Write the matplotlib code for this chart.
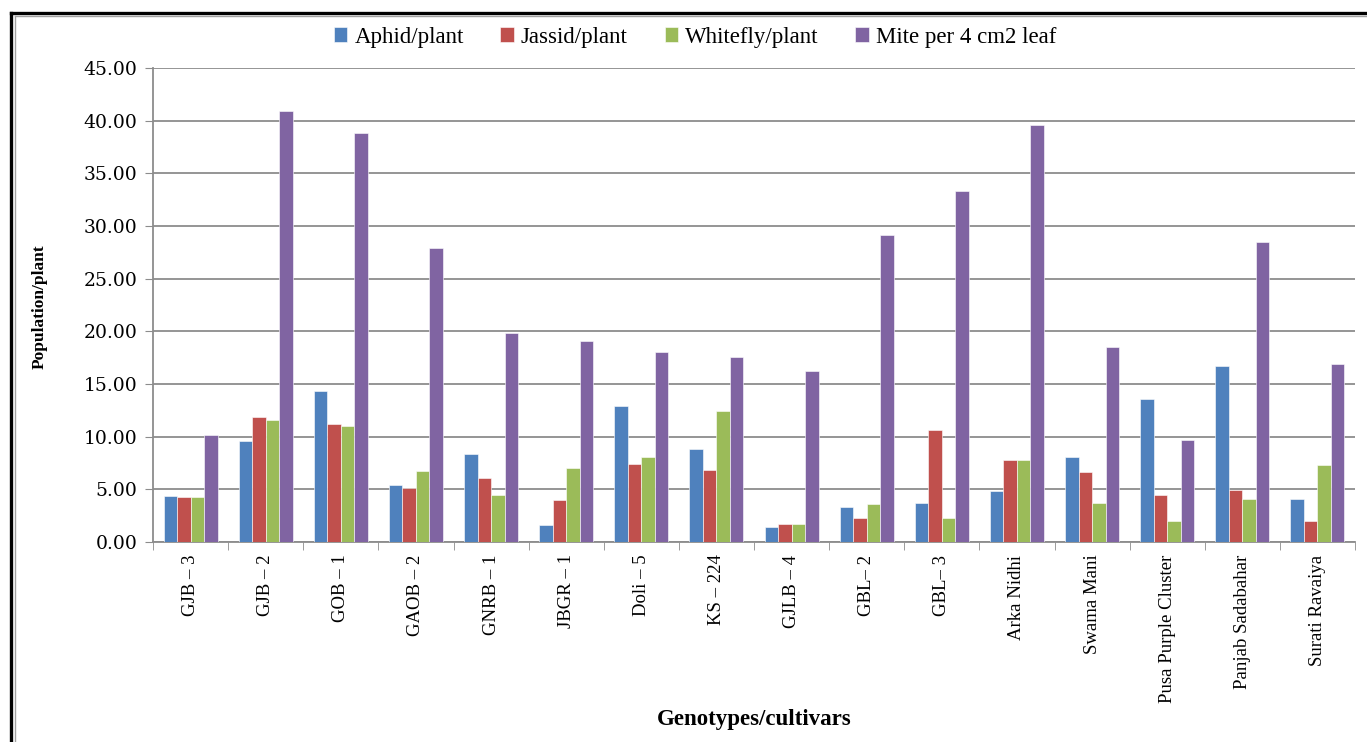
import numpy as np
import matplotlib
matplotlib.use("Agg")
import matplotlib.pyplot as plt
from matplotlib.lines import Line2D

genotypes = ["GJB – 3", "GJB – 2", "GOB – 1", "GAOB – 2", "GNRB – 1", "JBGR – 1",
             "Doli – 5", "KS – 224", "GJLB – 4", "GBL– 2", "GBL– 3", "Arka Nidhi",
             "Swama Mani", "Pusa Purple Cluster", "Panjab Sadabahar", "Surati Ravaiya"]

aphid = [4.35, 9.55, 14.30, 5.43, 8.38, 1.63, 12.93, 8.79, 1.41, 3.34, 3.75, 4.80, 8.09, 13.53, 16.75, 4.07]
jassid = [4.25, 11.85, 11.16, 5.11, 6.06, 3.94, 7.43, 6.79, 1.73, 2.26, 10.59, 7.74, 6.60, 4.48, 4.92, 2.04]
whitefly = [4.25, 11.54, 11.04, 6.70, 4.48, 7.00, 8.05, 12.39, 1.73, 3.63, 2.26, 7.74, 3.75, 1.95, 4.07, 7.33]
mite = [10.18, 40.95, 38.86, 27.87, 19.84, 19.10, 18.06, 17.52, 16.25, 29.17, 33.35, 39.59, 18.50, 9.70, 28.50, 16.92]

series = ["Aphid/plant", "Jassid/plant", "Whitefly/plant", "Mite per 4 cm2 leaf"]
colours = ["#4F81BD", "#C0504D", "#9BBB59", "#8064A2"]
yticks = np.arange(0, 46, 5)

W, H = 1367, 742
fig = plt.figure(figsize=(W / 100, H / 100), dpi=100)
ax = fig.add_axes([153 / W, 1 - 542 / H, (1355 - 153) / W, (542 - 68) / H])

x = np.arange(len(genotypes))
bw = 0.18
for i, (vals, col, name) in enumerate(zip([aphid, jassid, whitefly, mite], colours, series)):
    ax.bar(x + (i - 1.5) * bw, vals, bw, color=col, edgecolor="#ffffff", linewidth=0.4,
           label=name, zorder=3)

ax.set_xlim(-0.5, len(genotypes) - 0.5)
ax.set_ylim(0, 45)
ax.set_yticks(yticks)
ax.set_yticklabels(["%.2f" % v for v in yticks], family="DejaVu Serif", fontsize=13.5)
ax.yaxis.grid(True, color="#8c8c8c", linewidth=1.3, zorder=0)
ax.set_axisbelow(True)

ax.set_xticks(x)
ax.set_xticklabels(genotypes, rotation=90, family="Liberation Serif", fontsize=13.5,
                   va="top", ha="center")
ax.set_xticks(np.arange(-0.5, len(genotypes)), minor=True)
ax.tick_params(axis="x", which="major", length=0, pad=9)
ax.tick_params(axis="x", which="minor", length=6, color="#8c8c8c", direction="out")
ax.tick_params(axis="y", length=6, color="#8c8c8c", direction="out", pad=5)

for s in ["top", "right"]:
    ax.spines[s].set_visible(False)
for s in ["left", "bottom"]:
    ax.spines[s].set_color("#8c8c8c")
    ax.spines[s].set_linewidth(1.3)

fig.text(40 / W, 1 - 307 / H, "Population/plant", rotation=90, ha="center", va="center",
         family="Liberation Serif", fontweight="bold", fontsize=12.5)
fig.text(754 / W, 1 - 719 / H, "Genotypes/cultivars", ha="center", va="center",
         family="Liberation Serif", fontweight="bold", fontsize=16.5)

fig.legend(loc="center", bbox_to_anchor=(695 / W, 1 - 37 / H), ncol=4, frameon=False,
           prop={"family": "Liberation Serif", "size": 16.5}, handlelength=0.6,
           handleheight=0.6, handletextpad=0.3, columnspacing=1.6)

# page frame
fig.add_artist(Line2D([11 / W, 11 / W], [0, 1 - 13 / H], color="black", linewidth=2.4))
fig.add_artist(Line2D([11 / W, 1], [1 - 13 / H, 1 - 13 / H], color="black", linewidth=2.4))
fig.add_artist(Line2D([14.5 / W, 14.5 / W], [0, 1 - 15.5 / H], color="#a0a0a0", linewidth=1))
fig.add_artist(Line2D([14.5 / W, 1], [1 - 15.5 / H, 1 - 15.5 / H], color="#a0a0a0", linewidth=1))

fig.savefig("out.png", dpi=100)
